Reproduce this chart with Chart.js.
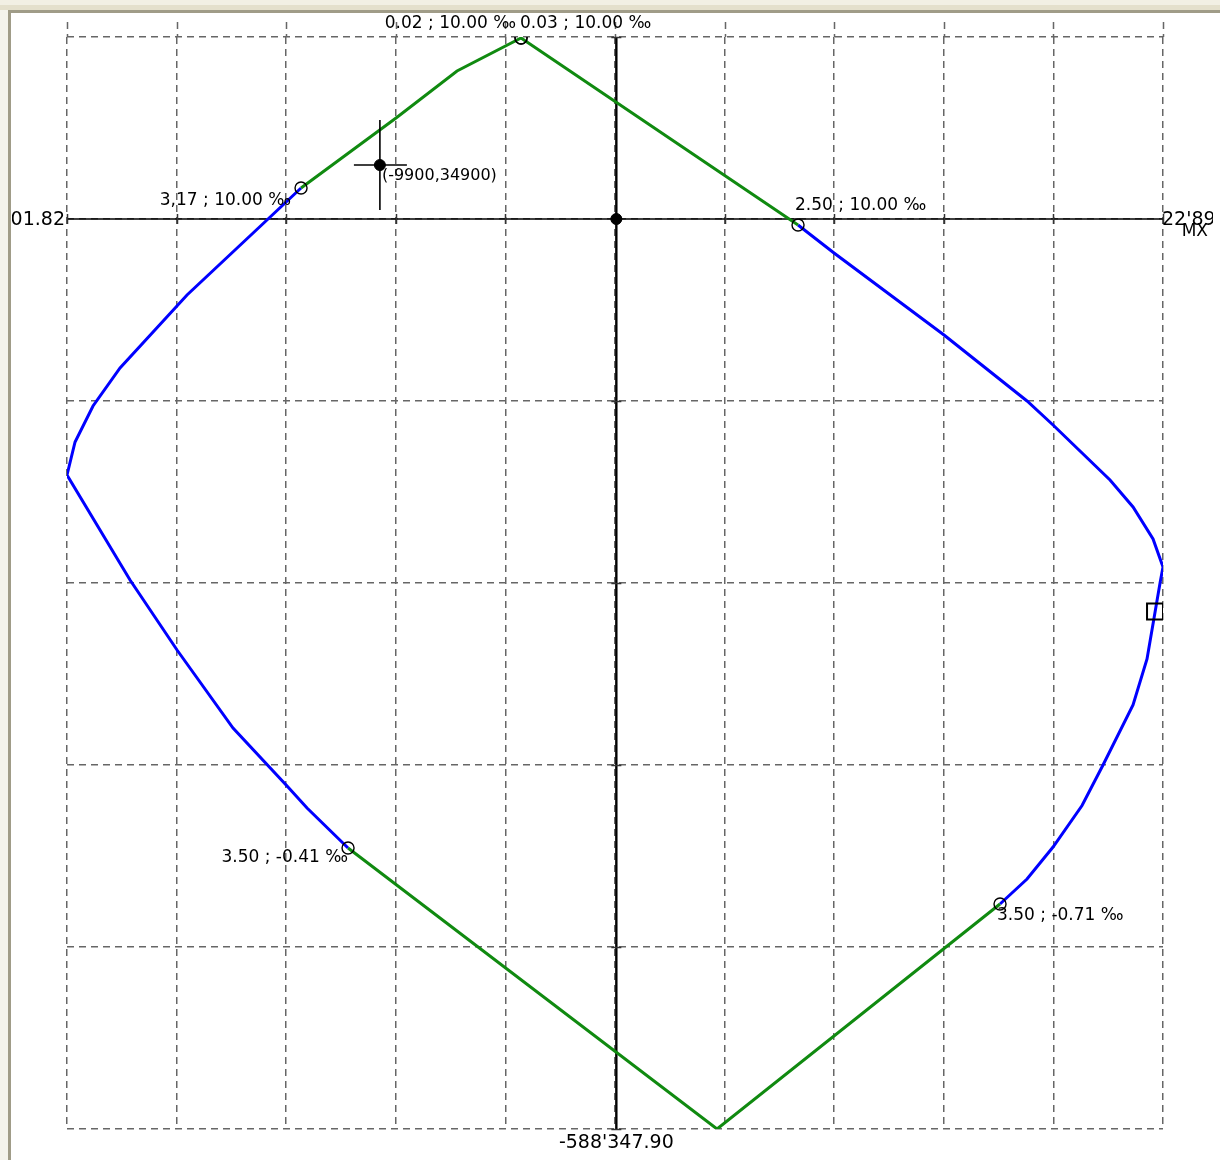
<!DOCTYPE html>
<html>
<head>
<meta charset="utf-8">
<title>Interaction diagram Mx - N</title>
<script src="https://cdn.jsdelivr.net/npm/chart.js@4.4.1/dist/chart.umd.min.js"></script>
<style>
  html, body { margin: 0; padding: 0; background: #fff; }
  canvas { display: block; }
</style>
</head>
<body>
<canvas id="chartCanvas" width="1220" height="1160"></canvas>
<script>
// Axis limits (Mx horizontal, N vertical)
const mxMin = -23001.82;
const mxMax = 22890.00;
const nMin = -588347.90;
const nMax = 117669.58;
const gridCountX = 10;
const gridCountY = 6;
const axisName = 'MX';

// Tension side (green, top)
const topMx = [-13202, -9224, -6670, -3990, 7608];
const topN  = [20043, 65301, 95688, 117024, -3879];

// Positive moment branch (blue, right)
const rightMx = [7608, 9115, 13721, 17197, 18286, 20672, 21635, 22473, 22890, 22766, 22221, 21635, 20379, 19500, 18286, 17197, 16066];
const rightN  = [-3879, -21982, -74999, -117670, -133187, -168747, -186204, -206893, -224996, -235341, -284478, -314218, -353011, -379196, -406027, -426716, -442880];

// Compression side (green, bottom)
const bottomMx = [16066, 4217, -11234];
const bottomN  = [-442880, -588347.90, -406674];

// Negative moment branch (blue, left)
const leftMx = [-11234, -12951, -13788, -16050, -18394, -20362, -23001.82, -22665, -21912, -20781, -17976, -14584, -13202];
const leftN  = [-406674, -380812, -366588, -329089, -278659, -233401, -165514, -144178, -120903, -96334, -49137, 0, 20043];

// Strain states marked on the diagram
const stateMx = [-13202, -3990, -3990, 7608, 16066, -11234];
const stateN  = [20043, 117024, 117024, -3879, -442880, -406674];
const stateLabels = ['3,17 ; 10.00 ‰', '0.02 ; 10.00 ‰', '0.03 ; 10.00 ‰', '2.50 ; 10.00 ‰', '3.50 ; -0.71 ‰', '3.50 ; -0.41 ‰'];

// Design load, cursor and origin
const loadMx = [22556];
const loadN  = [-253770];
const cursorMx = [-9900];
const cursorN  = [34900];
const cursorLabel = '(-9900,34900)';
const originMx = [0];
const originN  = [0];

const FONT = '"DejaVu Sans", Verdana, sans-serif';

function toPoints(xs, ys) {
    return xs.map((x, i) => ({ x: x, y: ys[i] }));
}

function formatValue(v) {
    const sign = v < 0 ? '-' : '';
    const parts = Math.abs(v).toFixed(2).split('.');
    return sign + parts[0].replace(/\B(?=(\d{3})+(?!\d))/g, "'") + '.' + parts[1];
}

function evenTicks(min, max, count) {
    const ticks = [];
    for (let i = 0; i <= count; i++) {
        ticks.push({ value: min + (max - min) * i / count });
    }
    return ticks;
}

function lineSet(xs, ys, color) {
    return {
        data: toPoints(xs, ys),
        showLine: true,
        borderColor: color,
        borderWidth: 3,
        pointRadius: 0,
        tension: 0,
        fill: false
    };
}

function markerSet(xs, ys, style, radius, fillColor, width) {
    return {
        data: toPoints(xs, ys),
        showLine: false,
        pointStyle: style,
        pointRadius: radius,
        pointBorderColor: '#000',
        pointBackgroundColor: fillColor,
        pointBorderWidth: width
    };
}

// label placement per strain state: [align, dx, dy]
const stateLabelPlace = [
    ['right', -10, 13],
    ['right', -5, -14],
    ['left', -1, -14],
    ['left', -3, -19],
    ['left', -3, 12],
    ['right', 0, 10]
];

const diagramDecor = {
    id: 'diagramDecor',
    beforeDraw(chart) {
        const ctx = chart.ctx;
        const w = chart.width, h = chart.height;
        ctx.save();
        ctx.fillStyle = '#fff';
        ctx.fillRect(0, 0, w, h);
        // window frame
        ctx.fillStyle = '#F2F0E4';
        ctx.fillRect(0, 0, w, 5);
        ctx.fillStyle = '#E4E0CC';
        ctx.fillRect(0, 5, w, 5);
        ctx.fillStyle = '#F4F3EC';
        ctx.fillRect(0, 10, 8, h);
        ctx.fillStyle = '#A09C88';
        ctx.fillRect(8, 10, w, 3);
        ctx.fillRect(8, 10, 3, h);
        ctx.restore();
    },
    beforeDatasetsDraw(chart) {
        const ctx = chart.ctx;
        const area = chart.chartArea;
        const xs = chart.scales.x, ys = chart.scales.y;
        const x0 = xs.getPixelForValue(0);
        const y0 = ys.getPixelForValue(0);
        ctx.save();
        // grid stubs above the top line
        ctx.strokeStyle = '#666';
        ctx.lineWidth = 1.5;
        ctx.setLineDash([7, 5]);
        xs.ticks.forEach(t => {
            const px = Math.round(xs.getPixelForValue(t.value)) + 0.5;
            ctx.beginPath();
            ctx.moveTo(px, area.top - 15);
            ctx.lineTo(px, area.top);
            ctx.stroke();
        });
        ctx.setLineDash([]);
        // axes through the origin
        ctx.strokeStyle = '#000';
        ctx.lineWidth = 1.6;
        ctx.beginPath();
        ctx.moveTo(area.left, y0);
        ctx.lineTo(area.right, y0);
        ctx.stroke();
        ctx.lineWidth = 2.4;
        ctx.beginPath();
        ctx.moveTo(x0, area.top);
        ctx.lineTo(x0, area.bottom);
        ctx.stroke();
        // tick marks
        ctx.strokeStyle = '#333';
        ctx.lineWidth = 1.5;
        xs.ticks.forEach(t => {
            const px = Math.round(xs.getPixelForValue(t.value)) + 0.5;
            ctx.beginPath();
            ctx.moveTo(px, y0 - 5);
            ctx.lineTo(px, y0 + 5);
            ctx.stroke();
        });
        ys.ticks.forEach(t => {
            const py = Math.round(ys.getPixelForValue(t.value)) + 0.5;
            ctx.beginPath();
            ctx.moveTo(x0 - 5, py);
            ctx.lineTo(x0 + 5, py);
            ctx.stroke();
        });
        ctx.restore();
    },
    afterDatasetsDraw(chart) {
        const ctx = chart.ctx;
        const area = chart.chartArea;
        const xs = chart.scales.x, ys = chart.scales.y;
        const x0 = xs.getPixelForValue(0);
        const y0 = ys.getPixelForValue(0);
        ctx.save();
        ctx.beginPath();
        ctx.rect(12, 13, 1213 - 12, chart.height - 13);
        ctx.clip();
        ctx.fillStyle = '#000';
        ctx.textBaseline = 'middle';

        // strain state labels
        ctx.font = '17px ' + FONT;
        stateLabels.forEach((txt, i) => {
            const px = xs.getPixelForValue(stateMx[i]);
            const py = ys.getPixelForValue(stateN[i]);
            const place = stateLabelPlace[i];
            ctx.textAlign = place[0];
            ctx.fillText(txt, px + place[1], py + place[2]);
        });

        // cursor cross and coordinates
        const cx = xs.getPixelForValue(cursorMx[0]);
        const cy = ys.getPixelForValue(cursorN[0]);
        ctx.strokeStyle = '#000';
        ctx.lineWidth = 1.6;
        ctx.beginPath();
        ctx.moveTo(cx - 26, cy);
        ctx.lineTo(cx + 27, cy);
        ctx.moveTo(cx, cy - 45);
        ctx.lineTo(cx, cy + 45);
        ctx.stroke();
        ctx.font = '16px ' + FONT;
        ctx.textAlign = 'left';
        ctx.fillText(cursorLabel, cx + 2, cy + 11);

        // axis extreme values
        ctx.font = '19px ' + FONT;
        ctx.textAlign = 'right';
        ctx.fillText(formatValue(mxMin), area.left - 2, y0 + 1);
        ctx.textAlign = 'left';
        ctx.fillText(formatValue(mxMax), area.right - 1, y0 + 1);
        ctx.textAlign = 'center';
        ctx.fillText(formatValue(nMin), x0, area.bottom + 14);
        ctx.font = '17px ' + FONT;
        ctx.textAlign = 'right';
        ctx.fillText(axisName, 1208, y0 + 13);
        ctx.restore();
    }
};

function createChart() {
    const canvas = document.getElementById('chartCanvas');
    const gridOpts = { color: '#666', lineWidth: 1.5, drawTicks: false };
    return new Chart(canvas, {
        type: 'scatter',
        data: {
            datasets: [
                markerSet(originMx, originN, 'circle', 5.5, '#000', 1),
                markerSet(cursorMx, cursorN, 'circle', 5.5, '#000', 1),
                markerSet(stateMx, stateN, 'circle', 6, 'rgba(0,0,0,0)', 1.4),
                markerSet(loadMx, loadN, 'rect', 11.3, 'rgba(0,0,0,0)', 2),
                lineSet(topMx, topN, '#108A10'),
                lineSet(bottomMx, bottomN, '#108A10'),
                lineSet(rightMx, rightN, '#0000FF'),
                lineSet(leftMx, leftN, '#0000FF')
            ]
        },
        options: {
            responsive: false,
            animation: false,
            events: [],
            layout: { padding: { left: 67, right: 57, top: 37, bottom: 31 } },
            plugins: { legend: { display: false }, tooltip: { enabled: false } },
            scales: {
                x: {
                    type: 'linear', min: mxMin, max: mxMax,
                    afterBuildTicks: axis => { axis.ticks = evenTicks(mxMin, mxMax, gridCountX); },
                    ticks: { display: false },
                    grid: gridOpts,
                    border: { display: false, dash: [7, 5] }
                },
                y: {
                    type: 'linear', min: nMin, max: nMax,
                    afterBuildTicks: axis => { axis.ticks = evenTicks(nMin, nMax, gridCountY); },
                    ticks: { display: false },
                    grid: gridOpts,
                    border: { display: false, dash: [7, 5] }
                }
            }
        },
        plugins: [diagramDecor]
    });
}

createChart();
</script>
</body>
</html>
